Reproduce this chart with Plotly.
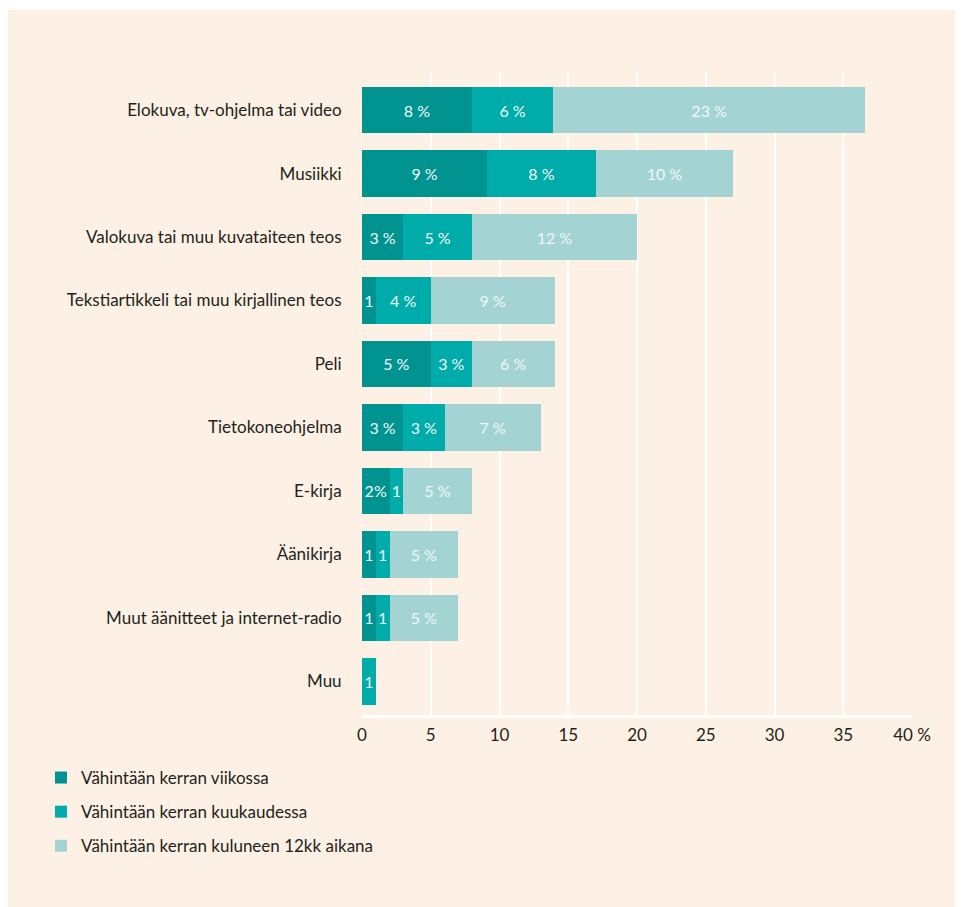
import plotly.graph_objects as go

categories = [
    "Elokuva, tv-ohjelma tai video",
    "Musiikki",
    "Valokuva tai muu kuvataiteen teos",
    "Tekstiartikkeli tai muu kirjallinen teos",
    "Peli",
    "Tietokoneohjelma",
    "E-kirja",
    "Äänikirja",
    "Muut äänitteet ja internet-radio",
    "Muu",
]

series_names = [
    "Vähintään kerran viikossa",
    "Vähintään kerran kuukaudessa",
    "Vähintään kerran kuluneen 12kk aikana",
]

# % of respondents
weekly = [8.0, 9.1, 3.0, 1.0, 5.0, 3.0, 2.0, 1.0, 1.0, 0.0]
monthly = [5.9, 7.9, 5.0, 4.0, 3.0, 3.0, 1.0, 1.0, 1.0, 1.0]
yearly = [22.7, 10.0, 12.0, 9.0, 6.0, 7.0, 5.0, 5.0, 5.0, 0.0]

weekly_text = ["8 %", "9 %", "3 %", "1", "5 %", "3 %", "2%", "1", "1", ""]
monthly_text = ["6 %", "8 %", "5 %", "4 %", "3 %", "3 %", "1", "1", "1", "1"]
yearly_text = ["23 %", "10 %", "12 %", "9 %", "6 %", "7 %", "5 %", "5 %", "5 %", ""]

x_ticks = [0, 5, 10, 15, 20, 25, 30, 35, 40]
x_ticktext = ["0", "5", "10", "15", "20", "25", "30", "35", "40 %"]

colors = ["#00938f", "#00acaa", "#a3d4d3"]
bg = "#fdf1e5"
font = "Lato, 'Open Sans', sans-serif"

# the page body adds an 8px margin, so the figure is 8px smaller
W, H = 955, 899
L, T, R, B = 354, 64, 51, 192
PW, PH = W - L - R, H - T - B

fig = go.Figure()
for i, (name, vals, txt, col) in enumerate(zip(series_names, [weekly, monthly, yearly],
                                               [weekly_text, monthly_text, yearly_text], colors)):
    fig.add_trace(go.Bar(
        y=categories, x=vals, name=name, orientation="h",
        legendgroup=f"g{i}",
        marker=dict(color=col, line=dict(width=0)),
        text=txt, textposition="inside", insidetextanchor="middle",
        textangle=0, textfont=dict(color="#eef8f8", size=16, family=font),
        width=0.73, hoverinfo="x+name",
    ))

# white strip along the top edge, the rest of the page is beige
fig.add_shape(type="rect", xref="paper", yref="paper", layer="below",
              x0=-L / PW, x1=(W - L) / PW,
              y0=(PH + T - 2) / PH, y1=(PH + T) / PH,
              fillcolor="white", line=dict(width=0))

fig.update_layout(
    width=W, height=H,
    barmode="stack",
    paper_bgcolor=bg, plot_bgcolor="rgba(0,0,0,0)",
    margin=dict(l=L, r=R, t=T, b=B),
    font=dict(family=font, size=17, color="#231f20"),
    uniformtext=dict(minsize=16, mode="show"),
    xaxis=dict(range=[0, 40], tickvals=x_ticks, ticktext=x_ticktext,
               showgrid=True, gridcolor="white", gridwidth=2,
               zeroline=False, showline=True, linecolor="white", linewidth=3,
               ticks="outside", ticklen=3, tickcolor="rgba(0,0,0,0)",
               tickfont=dict(size=17), fixedrange=True),
    yaxis=dict(categoryorder="array", categoryarray=categories,
               range=[9.53, -0.6], showgrid=False, zeroline=False,
               ticks="outside", ticklen=16, tickcolor="rgba(0,0,0,0)",
               tickfont=dict(size=17), fixedrange=True),
    legend=dict(orientation="v", x=(33 - L) / PW, xanchor="left",
                y=(H - B - 752) / PH, yanchor="top",
                bgcolor="rgba(0,0,0,0)", font=dict(size=17),
                traceorder="grouped", tracegroupgap=9),
    showlegend=True,
)

fig.write_html("out.html")
